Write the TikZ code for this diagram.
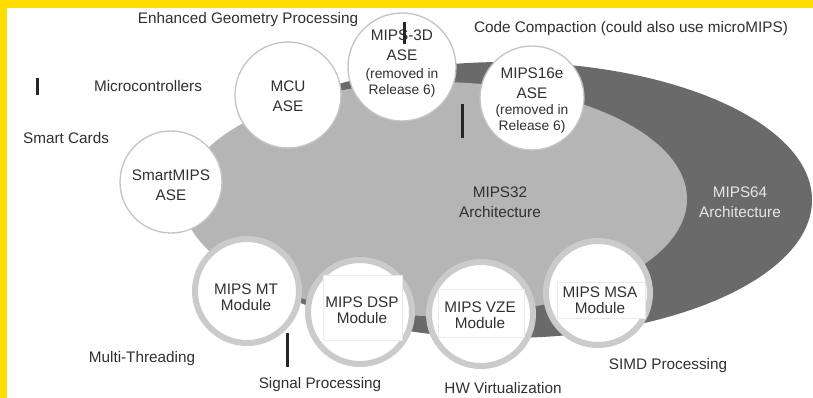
\documentclass[tikz,border=0pt]{standalone}
\usepackage{fontspec}
\setmainfont{Liberation Sans}
\definecolor{ygold}{HTML}{FFDD00}
\definecolor{dk}{HTML}{6A6A6A}
\definecolor{lt}{HTML}{B5B5B5}
\definecolor{ringc}{HTML}{CBCBCB}
\definecolor{thinc}{HTML}{C4C4C4}
\definecolor{txt}{HTML}{303030}
\definecolor{txtw}{HTML}{E6E6E6}
\definecolor{faint}{HTML}{EAEAEA}
\begin{document}
\begin{tikzpicture}[x=1pt,y=-1pt,
 ase/.style={circle,draw=thinc,line width=1.3pt,fill=white,inner sep=0pt},
 modc/.style={circle,draw=ringc,line width=6pt,fill=white,inner sep=0pt,minimum size=104pt},
 lbl/.style={text=txt,font=\fontsize{15.3}{19}\selectfont,inner sep=0pt,align=center},
 ctx/.style={text=txt,font=\fontsize{15.3}{19.5}\selectfont,inner sep=0pt,align=center},
 mtx/.style={text=txt,font=\fontsize{15.3}{15.5}\selectfont,inner sep=0pt,align=center},
 subtx/.style={text=txt,font=\fontsize{13.8}{15.5}\selectfont,inner sep=0pt,align=center},
 barline/.style={line width=3pt,draw=black!85},
 fbox/.style={draw=faint,line width=0.7pt,fill=white}]
\useasboundingbox (0,0) rectangle (813,398);
\fill[white] (0,0) rectangle (813,398);
\fill[ygold] (0,0) rectangle (813,8);
\fill[ygold] (0,0) rectangle (7,398);
% architectures
\fill[dk] (505,200) ellipse [x radius=307pt, y radius=138pt];
\fill[lt] (435,199) ellipse [x radius=252pt, y radius=117pt];
% ASE circles
\node[ase,minimum size=106pt] (mcu) at (288,95) {};
\node[ase,minimum size=108pt] (m3d) at (402,67) {};
\node[ase,minimum size=104pt] (m16) at (532,98) {};
\node[ase,minimum size=102pt] (smart) at (171,182) {};
% module circles
\node[modc] (mt) at (247,291) {};
\node[modc] (dsp) at (360,312) {};
\node[modc] (vze) at (481,314) {};
\node[modc] (msa) at (598,293) {};
\draw[fbox] (323,275) rectangle (402,340);
\draw[fbox] (438,289) rectangle (524,337);
\draw[fbox] (557,282) rectangle (645,318);
% circle texts
\node[ctx] (mcut) at (288,96) {MCU\\ASE};
\node[ctx] (m3dt) at (402,45) {MIPS-3D\\ASE};
\node[subtx] (m3ds) at (402,83) {(removed in\\Release 6)};
\node[ctx] (m16t) at (532,83) {MIPS16e\\ASE};
\node[subtx] (m16s) at (532,119) {(removed in\\Release 6)};
\node[ctx] (smartt) at (171,185) {SmartMIPS\\ASE};
\node[ctx] (m32t) at (500,202) {MIPS32\\Architecture};
\node[ctx,text=txtw] (m64t) at (740,202) {MIPS64\\Architecture};
\node[mtx] (mtt) at (246,297) {MIPS MT\\Module};
\node[mtx] (dspt) at (362,310) {MIPS DSP\\Module};
\node[mtx] (vzet) at (480,315) {MIPS VZE\\Module};
\node[mtx] (msat) at (600,300) {MIPS MSA\\Module};
% labels
\node[lbl] (egp) at (248,20) {Enhanced Geometry Processing};
\node[lbl] (cc) at (631,29) {Code Compaction (could also use microMIPS)};
\node[lbl] (micro) at (148,86) {Microcontrollers};
\node[lbl] (sc) at (66,138) {Smart Cards};
\node[lbl] (mth) at (142,359) {Multi-Threading};
\node[lbl] (sp) at (320,385) {Signal Processing};
\node[lbl] (hw) at (503,388) {HW Virtualization};
\node[lbl] (simd) at (668,366) {SIMD Processing};
% marks
\draw[barline] (37,78) -- (37,95);
\draw[barline] (404,22) -- (404,44);
\draw[barline] (462,104) -- (462,138);
\draw[barline] (287,333) -- (287,367);
\end{tikzpicture}
\end{document}
